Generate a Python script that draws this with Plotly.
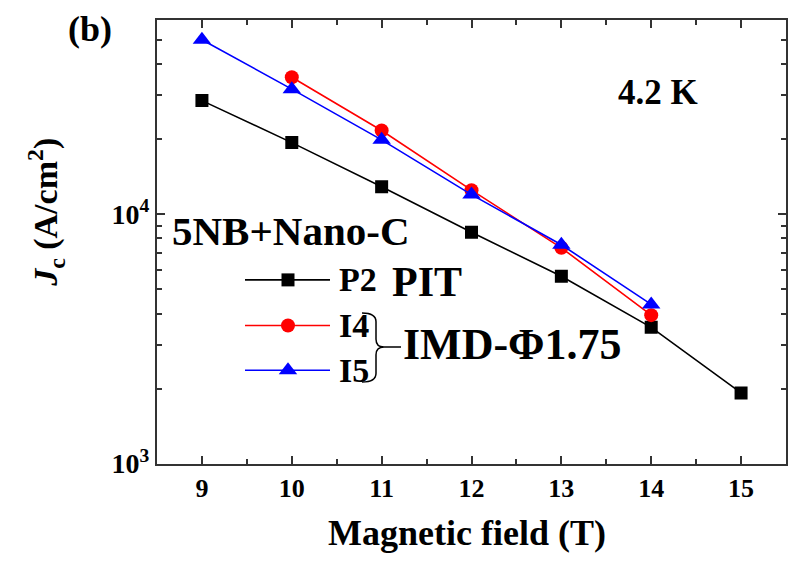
import math
import plotly.graph_objects as go

# ---------------- data ----------------
field_p2 = [9, 10, 11, 12, 13, 14, 15]
jc_p2 = [28600, 19400, 12900, 8480, 5640, 3520, 1920]
field_i4 = [10, 11, 12, 13, 14]
jc_i4 = [35500, 21700, 12500, 7340, 3940]
field_i5 = [9, 10, 11, 12, 13, 14]
jc_i5 = [50200, 31800, 19900, 12000, 7550, 4350]

x_ticks = [9, 10, 11, 12, 13, 14, 15]
y_ticks = [1000, 10000]
y_ticktext = ["<b>10<sup>3</sup></b>", "<b>10<sup>4</sup></b>"]
y_minor = [2000, 3000, 4000, 5000, 6000, 7000, 8000, 9000,
           20000, 30000, 40000, 50000]

series_names = ["P2", "I4", "I5"]
series_colors = ["#000000", "#ff0000", "#0000ff"]
series_symbols = ["square", "circle", "triangle-up"]
series_sizes = [13, 14, 16]

# ---------------- layout constants ----------------
W, H = 788, 568
L, R, T, B = 157, 786, 21, 477
FONT = "Liberation Serif, Times New Roman, serif"
AX = "#333333"

fig = go.Figure()

data = [(field_p2, jc_p2), (field_i4, jc_i4), (field_i5, jc_i5)]
for (xs, ys), name, c, sym, sz in zip(data, series_names, series_colors,
                                      series_symbols, series_sizes):
    fig.add_trace(go.Scatter(
        x=xs, y=ys, mode="lines+markers", name=name,
        line=dict(color=c, width=1.6),
        marker=dict(symbol=sym, size=sz, color=c, line=dict(width=0)),
        showlegend=False, xaxis="x", yaxis="y"))

# ---------------- hand-drawn legend (pixel overlay axes) ----------------
leg_rows = [288, 335, 381]
for yy, name, c, sym, sz in zip(leg_rows, series_names, series_colors,
                                series_symbols, series_sizes):
    fig.add_trace(go.Scatter(
        x=[245, 330], y=[yy, yy], mode="lines",
        line=dict(color=c, width=1.6), showlegend=False,
        xaxis="x2", yaxis="y2", hoverinfo="skip"))
    fig.add_trace(go.Scatter(
        x=[288], y=[yy], mode="markers",
        marker=dict(symbol=sym, size=sz, color=c, line=dict(width=0)),
        showlegend=False, xaxis="x2", yaxis="y2", hoverinfo="skip"))

annots = []

def px(x):
    return x / W

def py(y):
    return 1 - y / H

def txt(x, y, s, size, xanchor="left", angle=0):
    annots.append(dict(x=px(x), y=py(y), xref="paper", yref="paper",
                       text="<b>" + s + "</b>",
                       showarrow=False, xanchor=xanchor, yanchor="middle",
                       textangle=angle,
                       font=dict(family=FONT, size=size, color="black")))

for yy, name in zip(leg_rows, series_names):
    txt(337, yy, name, 34)
txt(390, 290, "PIT", 42)
txt(401, 354, "IMD-\u03a61.75", 44)
txt(170, 238, "5NB+Nano-C", 41)
txt(658, 95, "4.2 K", 35, xanchor="center")
txt(90, 30, "(b)", 36, xanchor="center")
txt(467, 548, "Magnetic field (T)", 36, xanchor="center")
txt(46, 219, "<i>J</i><sub>c</sub> (A/cm<sup>2</sup>)", 34,
    xanchor="center", angle=-90)

brace = ("M 362 322 Q 376 322 376 331 L 376 349 Q 376 357 384 357 "
         "Q 376 357 376 365 L 376 384 Q 376 393 362 393 "
         "M 384 357 L 401 357")

fig.update_layout(
    width=W, height=H,
    margin=dict(l=0, r=0, t=0, b=0),
    paper_bgcolor="white",
    plot_bgcolor="rgba(0,0,0,0)",
    showlegend=False,
    annotations=annots,
    shapes=[dict(type="path", path=brace, xref="x2", yref="y2",
                 line=dict(color="black", width=1.5))],
    xaxis=dict(
        domain=[L / W, R / W], range=[8.5, 15.5],
        tickvals=x_ticks, ticktext=["<b>%d</b>" % v for v in x_ticks],
        ticks="inside", ticklen=8, tickwidth=1.5,
        tickcolor=AX, showline=True, linewidth=2, linecolor=AX,
        mirror="ticks", showgrid=False, zeroline=False,
        tickfont=dict(family=FONT, size=26, color="black"),
        minor=dict(dtick=0.5, tick0=0, ticks="inside", ticklen=5,
                   tickwidth=1.5, tickcolor=AX, showgrid=False),
        anchor="y"),
    yaxis=dict(
        type="log", domain=[1 - B / H, 1 - T / H],
        range=[3, math.log10(60000)],
        tickvals=y_ticks, ticktext=y_ticktext,
        ticks="inside", ticklen=8, tickwidth=1.5, tickcolor=AX,
        showline=True, linewidth=2, linecolor=AX, mirror="ticks",
        showgrid=False, zeroline=False,
        tickfont=dict(family=FONT, size=28, color="black"),
        minor=dict(tickvals=y_minor, ticks="inside", ticklen=5,
                   tickwidth=1.5, tickcolor=AX, showgrid=False),
        anchor="x"),
    xaxis2=dict(domain=[0, 1], range=[0, W], visible=False,
                anchor="y2", fixedrange=True),
    yaxis2=dict(domain=[0, 1], range=[H, 0], visible=False,
                anchor="x2", fixedrange=True),
)

fig.write_html("out.html")
